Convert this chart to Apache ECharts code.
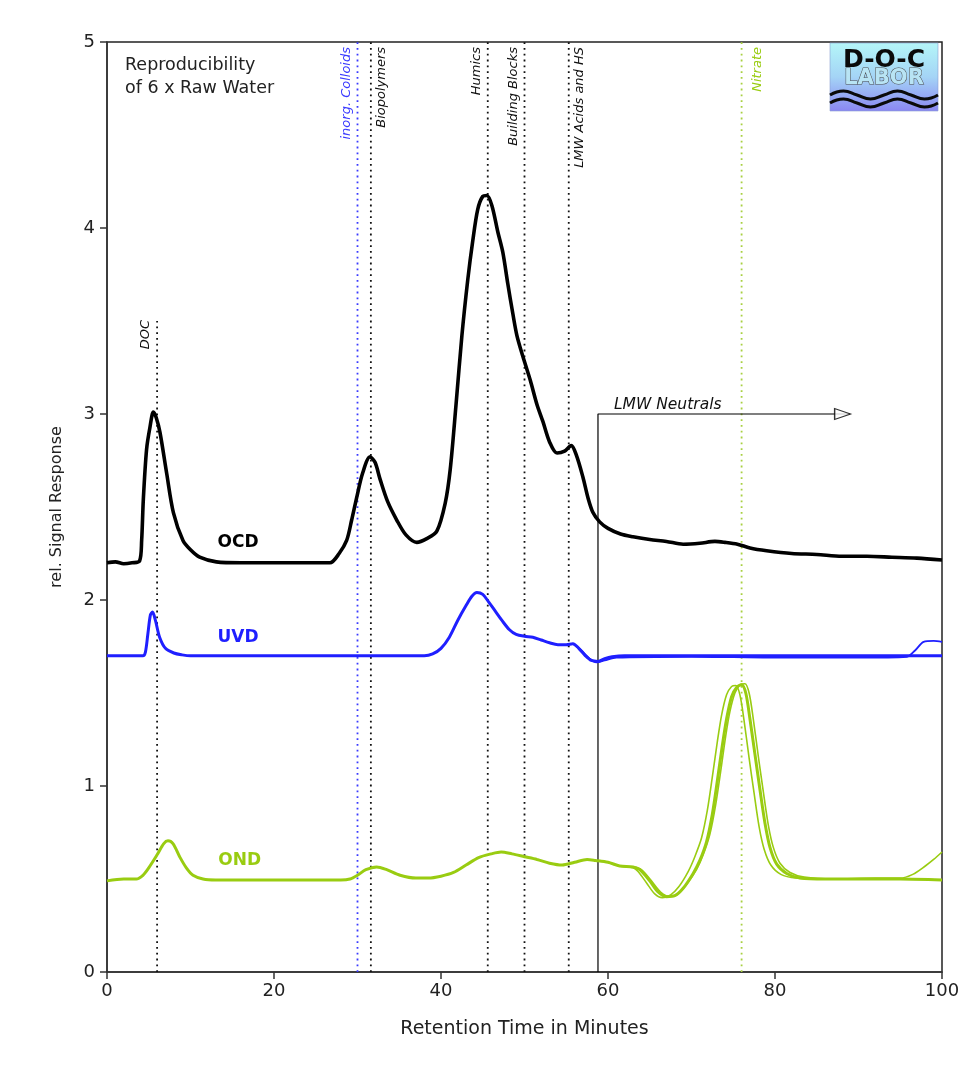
<!DOCTYPE html>
<html><head><meta charset="utf-8">
<script src="https://cdn.jsdelivr.net/npm/echarts@6/dist/echarts.min.js"></script>
<style>html,body{margin:0;padding:0;background:#fff}#c{width:974px;height:1072px}</style>
</head><body><div id="c"></div>
<script>
// ---- axis ranges / ticks ----
const xRange = [0, 100];
const xInterval = 20;
const yRange = [0, 5];
const yInterval = 1;

// ---- OCD (organic carbon detector), [minutes, rel. response] ----
const ocd = [[0,2.2],[1,2.205],[2,2.195],[3,2.2],[3.9,2.21],[4.15,2.32],[4.35,2.54],[4.74,2.81],[5.15,2.93],[5.55,3.01],[5.9,2.98],[6.35,2.9],[7.15,2.68],[7.95,2.47],[9.1,2.32],[10,2.27],[11.1,2.23],[13.1,2.205],[16,2.2],[20,2.2],[24,2.2],[26.7,2.2],[27.8,2.25],[28.7,2.32],[29.3,2.43],[29.9,2.55],[30.6,2.68],[31.5,2.77],[32.1,2.74],[32.7,2.65],[33.6,2.53],[34.7,2.43],[35.8,2.35],[37.1,2.31],[38.3,2.33],[39.5,2.37],[40.5,2.52],[41.1,2.7],[41.8,3.05],[42.5,3.42],[43.2,3.72],[43.8,3.93],[44.4,4.1],[45.0,4.17],[45.5,4.175],[46.1,4.12],[46.8,3.98],[47.4,3.87],[48.0,3.7],[48.6,3.54],[49.1,3.42],[49.8,3.31],[50.7,3.18],[51.5,3.05],[52.2,2.96],[53.0,2.85],[53.9,2.79],[54.8,2.8],[55.6,2.83],[56.2,2.78],[57.0,2.66],[57.6,2.55],[58.2,2.47],[59.0,2.42],[60.0,2.385],[61.5,2.355],[63,2.34],[65,2.325],[67,2.315],[69,2.3],[71,2.305],[72.8,2.315],[74,2.31],[75.5,2.3],[77,2.28],[79,2.265],[82,2.25],[85,2.245],[88,2.235],[91,2.235],[94,2.23],[97,2.225],[100,2.215]];

// ---- UVD (UV detector) ----
const uvd = [[0,1.7],[4.3,1.7],[4.6,1.72],[4.9,1.82],[5.2,1.92],[5.45,1.935],[5.8,1.89],[6.3,1.8],[7,1.74],[8,1.715],[9,1.705],[10,1.7],[20,1.7],[30,1.7],[38,1.7],[39,1.71],[40,1.74],[41,1.8],[42,1.89],[43,1.97],[43.7,2.02],[44.3,2.04],[45,2.03],[45.7,1.99],[46.5,1.94],[47.3,1.89],[48.2,1.84],[49,1.815],[50,1.805],[51,1.8],[52,1.785],[53,1.77],[54,1.76],[55,1.76],[55.8,1.765],[56.5,1.74],[57.3,1.7],[58,1.675],[58.8,1.67],[59.6,1.685],[60.5,1.695],[62,1.7],[70,1.7],[80,1.7],[90,1.7],[95,1.7],[100,1.7]];
const uvdReplicate = [[55.8,1.765],[56.8,1.73],[57.8,1.685],[58.6,1.665],[59.6,1.675],[61,1.69],[70,1.695],[80,1.69],[90,1.69],[95.8,1.695],[96.8,1.73],[97.8,1.775],[99,1.78],[100,1.775]];

// ---- OND (organic nitrogen detector) ----
const ond = [[0,0.49],[2,0.5],[3.5,0.5],[4.3,0.52],[5,0.56],[6,0.63],[6.8,0.69],[7.3,0.705],[7.9,0.69],[8.7,0.62],[9.5,0.56],[10.3,0.52],[11.5,0.5],[13,0.495],[20,0.495],[28,0.495],[29.1,0.5],[30,0.52],[31,0.55],[32.3,0.565],[33.5,0.55],[35.1,0.52],[37,0.505],[38.5,0.505],[40,0.515],[41.5,0.535],[43,0.575],[44.5,0.615],[46,0.635],[47.2,0.645],[48.5,0.635],[50,0.62],[51.5,0.605],[53,0.585],[54.5,0.575],[56,0.59],[57.5,0.605],[58.5,0.6],[60,0.59],[61.4,0.57],[63,0.565],[63.8,0.55],[65,0.49],[66,0.43],[67,0.405],[68,0.41],[69,0.45],[70.2,0.53],[71,0.6],[71.8,0.7],[72.5,0.85],[73.1,1.03],[73.7,1.22],[74.2,1.36],[74.8,1.48],[75.4,1.53],[76,1.545],[76.5,1.5],[77,1.36],[77.6,1.17],[78.2,0.98],[78.8,0.8],[79.4,0.67],[80.2,0.58],[81.4,0.53],[83,0.505],[86,0.5],[90,0.5],[95,0.5],[100,0.495]];
const ondReplicateEarly = [[60,0.59],[61.4,0.57],[63,0.56],[63.6,0.54],[64.6,0.48],[65.6,0.42],[66.5,0.4],[67.5,0.415],[68.5,0.46],[69.6,0.54],[70.4,0.62],[71.2,0.72],[71.9,0.87],[72.5,1.05],[73.1,1.24],[73.6,1.38],[74.2,1.49],[74.8,1.535],[75.3,1.54],[75.8,1.49],[76.3,1.35],[76.9,1.15],[77.5,0.96],[78.1,0.78],[78.7,0.66],[79.5,0.575],[80.7,0.525],[82.5,0.505],[86,0.5],[90,0.5],[95,0.5],[100,0.495]];
const ondReplicateLate = [[60,0.59],[61.4,0.57],[63,0.565],[64,0.55],[65.2,0.49],[66.3,0.43],[67.4,0.405],[68.4,0.42],[69.4,0.47],[70.6,0.55],[71.4,0.63],[72.2,0.74],[72.9,0.9],[73.5,1.08],[74.1,1.27],[74.6,1.4],[75.2,1.5],[75.8,1.545],[76.4,1.55],[76.9,1.5],[77.4,1.36],[78,1.16],[78.6,0.97],[79.2,0.79],[79.8,0.67],[80.6,0.585],[81.8,0.535],[83.5,0.51],[87,0.5],[92,0.505],[95,0.505],[96.5,0.525],[98,0.57],[99,0.605],[100,0.645]];

// ---- fraction markers ----
const markerNames = ['DOC','inorg. Colloids','Biopolymers','Humics','Building Blocks','LMW Acids and HS','Nitrate'];
const markerTimes = [6.0, 30.0, 31.6, 45.6, 50.0, 55.3, 76.0];
const markerTops  = [3.5, 5, 5, 5, 5, 5, 5];
const markerKinds = ['oc','inorg','oc','oc','oc','oc','nitrate'];
const markerSides = [-1, -1, 1, -1, -1, 1, 1];

// ---- LMW neutrals bracket ----
const neutralsName = 'LMW Neutrals';
const neutralsStart = 58.8;
const neutralsLevel = 3.0;
const neutralsEnd = 89.0;

// ---- detector labels ----
const detectorNames = ['OCD','UVD','OND'];
const detectorLabelPos = [[15.7,2.31],[15.7,1.8],[15.9,0.6]];

const C_OCD = '#000000', C_UVD = '#1f1fff', C_OND = '#99cc11';
const kindColor = {oc:'#111111', inorg:'#3a3aff', nitrate:'#a8d040'};
const detColor = [C_OCD, C_UVD, C_OND];

const chart = echarts.init(document.getElementById('c'), null, {renderer:'canvas'});

const series = [];
markerNames.forEach((n,i)=>{
  series.push({type:'line', silent:true, symbol:'none', z:1,
    data:[[markerTimes[i],0],[markerTimes[i],markerTops[i]]],
    lineStyle:{color:kindColor[markerKinds[i]], width:1.8, type:[1.8,4]}});
});
series.push({type:'line', silent:true, symbol:'none', z:1,
  data:[[neutralsStart,0],[neutralsStart,neutralsLevel],[neutralsEnd,neutralsLevel]],
  lineStyle:{color:'#000', width:1.2}});
series.push({type:'scatter', silent:true, z:3, data:[[neutralsEnd-0.9,neutralsLevel]],
  symbol:'triangle', symbolSize:[11,16], symbolRotate:-90,
  itemStyle:{color:'#fff', borderColor:'#000', borderWidth:1.2}});

function curve(d, color, w, z){
  return {type:'line', silent:true, symbol:'none', smooth:0.3, z:z||5,
    data:d, lineStyle:{color:color, width:w}};
}
series.push(curve(ondReplicateEarly, C_OND, 1.6));
series.push(curve(ondReplicateLate, C_OND, 1.6));
series.push(curve(ond, C_OND, 3));
series.push(curve(uvdReplicate, C_UVD, 1.8));
series.push(curve(uvd, C_UVD, 3));
series.push(curve(ocd, C_OCD, 3.6));

const FONT = 'DejaVu Sans';
chart.setOption({
  animation:false,
  backgroundColor:'#ffffff',
  grid:{left:107, right:32, top:42, bottom:100, show:true, borderColor:'#222', borderWidth:1.5, backgroundColor:'transparent'},
  xAxis:{type:'value', min:xRange[0], max:xRange[1], interval:xInterval,
    name:'Retention Time in Minutes', nameLocation:'middle', nameGap:48,
    nameTextStyle:{fontFamily:FONT, fontSize:19, color:'#222'},
    axisLine:{show:true, lineStyle:{color:'#333', width:1.5}},
    axisTick:{show:true, length:7, lineStyle:{color:'#333', width:1.5}},
    axisLabel:{fontFamily:FONT, fontSize:18, color:'#222', margin:10},
    splitLine:{show:false}},
  yAxis:{type:'value', min:yRange[0], max:yRange[1], interval:yInterval,
    name:'rel. Signal Response', nameLocation:'middle', nameGap:42,
    nameTextStyle:{fontFamily:FONT, fontSize:16, color:'#222'},
    axisLine:{show:true, lineStyle:{color:'#333', width:1.5}},
    axisTick:{show:true, length:7, lineStyle:{color:'#333', width:1.5}},
    axisLabel:{fontFamily:FONT, fontSize:18, color:'#222', margin:12},
    splitLine:{show:false}},
  series:series
});

// ---- annotations positioned through the axes' scales ----
const P = (x,y)=>chart.convertToPixel({gridIndex:0},[x,y]);
const g = [];
const tl = P(0,5);
g.push({type:'text', x:tl[0]+18, y:tl[1]+23, style:{text:'Reproducibility', font:'17.5px "DejaVu Sans"', fill:'#222', verticalAlign:'middle'}});
g.push({type:'text', x:tl[0]+18, y:tl[1]+46, style:{text:'of 6 x Raw Water', font:'17.5px "DejaVu Sans"', fill:'#222', verticalAlign:'middle'}});
markerNames.forEach((n,i)=>{
  const p = P(markerTimes[i], markerTops[i]);
  const off = markerKinds[i]==='nitrate' ? 16 : 11;
  const k = markerKinds[i];
  g.push({type:'text', x:p[0]+markerSides[i]*off, y:p[1]+(i===0?-1:5), rotation:Math.PI/2,
    style:{text:n, font:'italic 13px "DejaVu Sans"', fill:k==='inorg'?'#3a3aff':(k==='nitrate'?'#99cc11':'#111'),
      align:'right', verticalAlign:'middle'}});
});
const pn = P(neutralsStart, neutralsLevel);
g.push({type:'text', x:pn[0]+16, y:pn[1]-9, style:{text:neutralsName, font:'italic 15.5px "DejaVu Sans"', fill:'#111', align:'left', verticalAlign:'middle'}});
detectorNames.forEach((n,i)=>{
  const p = P(detectorLabelPos[i][0], detectorLabelPos[i][1]);
  g.push({type:'text', x:p[0], y:p[1], style:{text:n, font:'bold 17px "DejaVu Sans"', fill:detColor[i], align:'center', verticalAlign:'middle'}});
});
// D-O-C LABOR logo
const tr = P(100,5);
const lx = tr[0]-112, ly = tr[1]+1;
const wave1 = [[0,52],[13.5,48],[27,52],[40.5,56],[54,52],[67.5,48],[81,52],[94.5,56],[108,52]];
const wave2 = [[0,60],[13.5,56],[27,60],[40.5,64],[54,60],[67.5,56],[81,60],[94.5,64],[108,60]];
g.push({type:'group', x:lx, y:ly, children:[
  {type:'rect', shape:{x:0,y:0,width:108,height:68}, style:{fill:new echarts.graphic.LinearGradient(0,0,0,1,[{offset:0,color:'#b4f6f8'},{offset:0.5,color:'#a4d4f6'},{offset:1,color:'#8a86f2'}]), stroke:'#8aa0d0', lineWidth:0.6}},
  {type:'text', x:54, y:17, style:{text:'D-O-C', font:'bold 25px "DejaVu Sans"', fill:'#0a0a0a', align:'center', verticalAlign:'middle'}},
  {type:'text', x:54, y:36, style:{text:'LABOR', font:'bold 21px "DejaVu Sans"', fill:'#b8e4f4', stroke:'#4a4a4a', lineWidth:1, align:'center', verticalAlign:'middle'}},
  {type:'polyline', shape:{points:wave1, smooth:0.5}, style:{fill:null, stroke:'#0a0a0a', lineWidth:3}},
  {type:'polyline', shape:{points:wave2, smooth:0.5}, style:{fill:null, stroke:'#0a0a0a', lineWidth:3}}
]});
chart.setOption({graphic:g});
</script>
</body></html>
